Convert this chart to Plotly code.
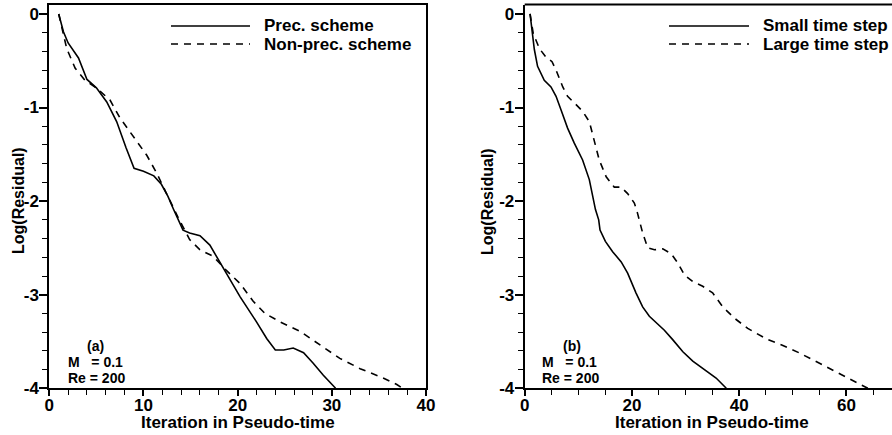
import plotly.graph_objects as go

# ---------------- data ----------------
# Panel (a): preconditioned vs non-preconditioned scheme
prec_x = [1.0, 1.5, 2.0, 3.1, 4.0, 5.0, 6.1, 7.15, 8.15, 9.0, 10.0, 11.1, 11.9, 12.6, 13.2, 13.7,
          14.2, 14.9, 16.0, 17.05, 18.1, 19.2, 20.25, 22.0, 23.1, 24.0, 24.9, 25.9, 27.0, 28.0,
          29.1, 30.4]
prec_y = [0.0, -0.19, -0.31, -0.47, -0.70, -0.79, -0.94, -1.15, -1.43, -1.65, -1.68, -1.73, -1.82,
          -1.95, -2.09, -2.20, -2.31, -2.34, -2.37, -2.47, -2.65, -2.84, -3.02, -3.29, -3.47, -3.59,
          -3.59, -3.57, -3.62, -3.73, -3.86, -4.0]

nonprec_x = [1.0, 1.5, 1.85, 2.75, 3.8, 5.0, 6.45, 7.5, 8.9, 10.35, 11.4, 12.45, 13.7, 14.9, 16.0,
             17.4, 18.8, 20.25, 21.65, 22.9, 24.5, 26.6, 28.75, 30.85, 33.0, 35.45, 36.9, 37.5]
nonprec_y = [0.0, -0.20, -0.37, -0.58, -0.71, -0.79, -0.92, -1.11, -1.31, -1.51, -1.70, -1.92,
             -2.18, -2.41, -2.52, -2.59, -2.74, -2.88, -3.07, -3.20, -3.29, -3.39, -3.54, -3.68,
             -3.79, -3.89, -3.96, -4.0]

# Panel (b): small vs large time step
small_x = [1.0, 1.35, 1.8, 2.4, 3.65, 4.9, 5.85, 6.8, 8.0, 9.25, 10.8, 12.05, 13.2, 13.8, 14.05,
           15.05, 16.4, 18.0, 19.2, 20.75, 22.0, 23.25, 24.5, 26.05, 27.6, 29.5, 31.35, 33.5, 35.7,
           37.6]
small_y = [0.0, -0.17, -0.38, -0.56, -0.71, -0.78, -0.88, -1.03, -1.22, -1.38, -1.56, -1.77, -2.09,
           -2.20, -2.31, -2.43, -2.54, -2.65, -2.77, -2.98, -3.13, -3.23, -3.30, -3.38, -3.48, -3.61,
           -3.71, -3.80, -3.89, -4.0]

large_x = [1.0, 1.6, 2.75, 3.95, 5.1, 5.85, 7.1, 8.0, 9.25, 10.8, 12.05, 13.0, 13.9, 15.2, 16.7,
           18.0, 19.2, 20.45, 21.0, 22.0, 22.95, 24.2, 25.75, 27.3, 28.55, 29.8, 31.35, 33.2, 35.05,
           36.95, 39.1, 41.6, 45.0, 48.05, 51.15, 54.9, 58.65, 61.75, 64.0]
large_y = [0.0, -0.21, -0.37, -0.46, -0.51, -0.60, -0.78, -0.88, -0.95, -1.04, -1.15, -1.35, -1.56,
           -1.74, -1.85, -1.85, -1.92, -2.02, -2.12, -2.34, -2.50, -2.52, -2.51, -2.56, -2.66, -2.79,
           -2.86, -2.91, -2.98, -3.13, -3.25, -3.36, -3.47, -3.54, -3.62, -3.73, -3.84, -3.93, -4.0]

names_a = ["Prec. scheme", "Non-prec. scheme"]
names_b = ["Small time step", "Large time step"]
y_ticks = [0, -1, -2, -3, -4]
y_tick_text = ["0", "-1", "-2", "-3", "-4"]
xa_ticks = [0, 10, 20, 30, 40]
xb_ticks = [0, 20, 40, 60]
x_title = "Iteration in Pseudo-time"
y_title = "Log(Residual)"
labels_a = ["(a)", "M   = 0.1", "Re = 200"]
labels_b = ["(b)", "M   = 0.1", "Re = 200"]

# ---------------- figure ----------------
W, H = 892, 435
FONT = "Liberation Sans, Arial, Helvetica, sans-serif"

def px(x):
    return x / W

def py(y):
    return 1 - y / H

fig = go.Figure()
solid = dict(color="black", width=1.6, dash="solid")
dashed = dict(color="black", width=1.6, dash="7px,6px")

fig.add_trace(go.Scatter(x=prec_x, y=prec_y, mode="lines", line=solid, name=names_a[0],
                         xaxis="x", yaxis="y", showlegend=False))
fig.add_trace(go.Scatter(x=nonprec_x, y=nonprec_y, mode="lines", line=dashed, name=names_a[1],
                         xaxis="x", yaxis="y", showlegend=False))
fig.add_trace(go.Scatter(x=small_x, y=small_y, mode="lines", line=solid, name=names_b[0],
                         xaxis="x2", yaxis="y2", showlegend=False))
fig.add_trace(go.Scatter(x=large_x, y=large_y, mode="lines", line=dashed, name=names_b[1],
                         xaxis="x2", yaxis="y2", showlegend=False))

left_dom = [px(49.3), px(426.0)]
right_dom = [px(524.7), 1.0]
y_dom = [py(388.3), py(4.6)]

tickfont = dict(family=FONT, size=17, color="black", weight="bold")
common_x = dict(showline=True, linewidth=2, linecolor="black", ticks="outside", ticklen=6,
                tickwidth=1.5, tickcolor="black", showgrid=False, zeroline=False,
                tickfont=tickfont, automargin=False, ticklabelstandoff=-6)
common_y = dict(showline=True, linewidth=2, linecolor="black", ticks="outside", ticklen=8,
                tickwidth=1.5, tickcolor="black", showgrid=False, zeroline=False,
                tickfont=tickfont, automargin=False, range=[-4, 0.1],
                tickvals=y_ticks, ticktext=y_tick_text, domain=y_dom, ticklabelstandoff=-3,
                minor=dict(dtick=0.2, tick0=0, ticks="outside", ticklen=5, tickwidth=1.2,
                           tickcolor="black", showgrid=False))

fig.update_layout(
    width=W, height=H,
    margin=dict(l=0, r=0, t=0, b=0),
    paper_bgcolor="white", plot_bgcolor="white",
    font=dict(family=FONT, size=16, color="black", weight="bold"),
    showlegend=False,
    xaxis=dict(common_x, domain=left_dom, range=[0, 40], tickvals=xa_ticks, mirror=True,
               anchor="y",
               minor=dict(dtick=2, tick0=0, ticks="outside", ticklen=5, tickwidth=1.2,
                          tickcolor="black", showgrid=False)),
    yaxis=dict(common_y, anchor="x", mirror=True),
    xaxis2=dict(common_x, domain=right_dom, range=[0, 70 * (W - 524.7) / 375.3], tickvals=xb_ticks,
                anchor="y2", mirror=False,
                minor=dict(dtick=5, tick0=0, ticks="outside", ticklen=5, tickwidth=1.2,
                           tickcolor="black", showgrid=False)),
    yaxis2=dict(common_y, anchor="x2", mirror=False),
)

# top frame line of panel (b) (its right edge lies outside the picture)
fig.add_shape(type="line", xref="x2 domain", yref="y2 domain", x0=0, x1=1, y0=1, y1=1,
              line=dict(color="black", width=2))

annots = []
# axis titles
for cx in (237.6, 712.0):
    annots.append(dict(x=px(cx), y=py(422), xref="paper", yref="paper", text=x_title,
                       showarrow=False, font=dict(size=17), xanchor="center", yanchor="middle"))
for cx in (18.0, 487.0):
    annots.append(dict(x=px(cx), y=py(201), xref="paper", yref="paper", text=y_title,
                       showarrow=False, font=dict(size=16), textangle=-90,
                       xanchor="center", yanchor="middle"))

# legends (manual, long line samples)
def legend(names, x_line0, x_line1, x_text):
    for i, (nm, ln) in enumerate(zip(names, (solid, dashed))):
        yy = 26 + 18 * i
        fig.add_shape(type="line", xref="paper", yref="paper", x0=px(x_line0), x1=px(x_line1),
                      y0=py(yy), y1=py(yy), line=ln)
        annots.append(dict(x=px(x_text), y=py(yy), xref="paper", yref="paper", text=nm,
                           showarrow=False, font=dict(size=17), xanchor="left",
                           yanchor="middle"))

legend(names_a, 171, 250, 262)
legend(names_b, 669, 749, 761)

# in-plot labels
def labels(lbls, x_left, x_paren):
    for txt, xx, yy in zip(lbls, (x_paren, x_left, x_left), (345.5, 361.5, 377.5)):
        annots.append(dict(x=px(xx), y=py(yy), xref="paper", yref="paper", text=txt,
                           showarrow=False, font=dict(size=14), xanchor="left",
                           yanchor="middle", borderpad=0))

labels(labels_a, 67, 86)
labels(labels_b, 541, 562)

fig.update_layout(annotations=annots)
fig.write_html("out.html", config={"displayModeBar": False},
               post_script="document.body.style.margin='0';document.body.style.overflow='hidden';")
